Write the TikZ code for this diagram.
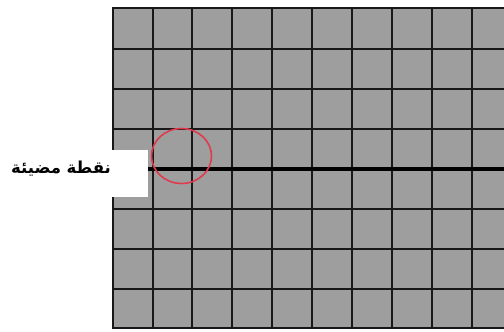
\documentclass[tikz,border=0pt]{standalone}
\usepackage{fontspec}
\usetikzlibrary{shapes.geometric}
\TeXXeTstate=1
\newfontfamily\arabicfont[Script=Arabic]{DejaVu Sans}
\definecolor{cellgray}{RGB}{158,158,158}
\definecolor{gridink}{RGB}{24,24,24}
\definecolor{ringred}{RGB}{222,60,78}
\tikzset{
  gridline/.style={draw=gridink, line width=2.9pt},
  midline/.style={draw=black, line width=4.2pt},
  labelbox/.style={fill=white, draw=none, inner sep=0pt, minimum width=148pt, minimum height=47pt},
  labeltextstyle/.style={inner sep=0pt, font=\arabicfont\bfseries\fontsize{16.5}{19}\selectfont},
  ring/.style={ellipse, draw=ringred, line width=1.6pt, inner sep=0pt, minimum width=60pt, minimum height=55pt}
}
\begin{document}
\begin{tikzpicture}[x=1pt,y=-1pt]
\useasboundingbox (0,0) rectangle (504,332);
\fill[cellgray] (113,8) rectangle (504,328);
\foreach \x in {113,153,192,232,272,312,352,392,432,472}
  \draw[gridline] (\x,8) -- (\x,328);
\foreach \y in {8,49,89,129,209,249,289,328}
  \draw[gridline] (112,\y) -- (504,\y);
\draw[midline] (113,169) -- (504,169);
\node[labelbox] (label) at (74,173.5) {};
\node[labeltextstyle] (labeltext) at (61,169) {\beginR نقطة مضيئة\endR};
\node[ring] (spot) at (181.5,156) {};
\end{tikzpicture}
\end{document}
